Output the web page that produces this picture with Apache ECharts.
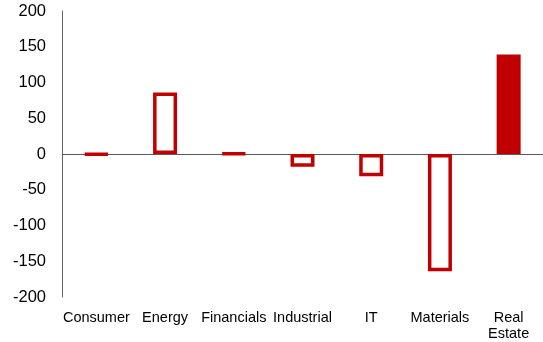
<!DOCTYPE html>
<html>
<head>
<meta charset="utf-8">
<script src="https://cdn.jsdelivr.net/npm/echarts@6/dist/echarts.min.js"></script>
<style>
html,body{margin:0;padding:0;background:#fff;}
#chart{width:543px;height:342px;}
</style>
</head>
<body>
<div id="chart"></div>
<script>
const categories = ['Consumer', 'Energy', 'Financials', 'Industrial', 'IT', 'Materials', 'Real Estate'];
const values = [-1, 86, 1, -18, -31, -164, 139];
const filledCategories = ['Real Estate'];
const yTicks = { min: -200, max: 200, step: 50 };

const red = '#C00000';
const data = values.map((v, i) => {
  const filled = filledCategories.includes(categories[i]);
  return {
    value: v,
    itemStyle: {
      color: filled ? red : '#ffffff',
      borderColor: red,
      borderWidth: 3.5
    }
  };
});

const chart = echarts.init(document.getElementById('chart'), null, { renderer: 'canvas' });
chart.setOption({
  animation: false,
  backgroundColor: '#ffffff',
  grid: { left: 62, right: 0, top: 11, bottom: 44, containLabel: false },
  xAxis: {
    type: 'category',
    data: categories,
    position: 'bottom',
    axisLine: { show: false, onZero: false },
    axisTick: { show: false },
    axisLabel: {
      color: '#000',
      fontFamily: 'Liberation Sans, Arial, sans-serif',
      fontSize: 14.5,
      margin: 13,
      interval: 0,
      lineHeight: 16,
      formatter: v => v.split(' ').join('\n')
    },
    splitLine: { show: false }
  },
  yAxis: {
    type: 'value',
    min: yTicks.min,
    max: yTicks.max,
    interval: yTicks.step,
    axisLine: { show: true, lineStyle: { color: '#666666', width: 1 } },
    axisTick: { show: false },
    splitLine: { show: false },
    axisLabel: {
      color: '#000',
      fontFamily: 'Liberation Sans, Arial, sans-serif',
      fontSize: 16.5,
      margin: 16
    }
  },
  series: [{
    type: 'bar',
    data: data,
    barWidth: 24,
    markLine: {
      silent: true,
      symbol: 'none',
      label: { show: false },
      lineStyle: { color: '#595959', width: 1, type: 'solid' },
      data: [{ yAxis: 0 }],
      z: 1
    },
    z: 2
  }]
});
</script>
</body>
</html>
